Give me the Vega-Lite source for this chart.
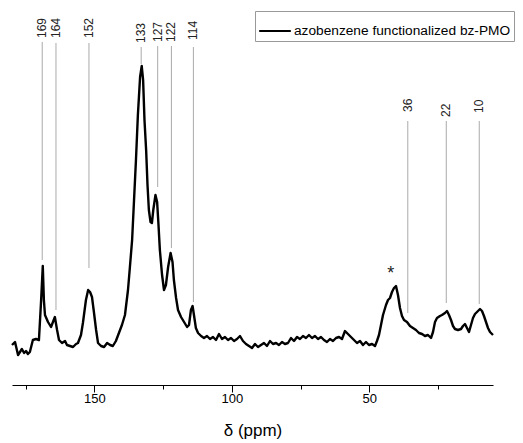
{
  "$schema": "https://vega.github.io/schema/vega-lite/v6.json",
  "autosize": "none",
  "width": 481,
  "height": 380,
  "padding": {"left": 12, "top": 5, "right": 30, "bottom": 58},
  "background": "white",
  "config": {
    "view": {"stroke": null},
    "font": "Liberation Sans",
    "text": {"font": "Liberation Sans"}
  },
  "datasets": {
    "spectrum": [
      {"ppm": 180.0, "i": 40}, {"ppm": 178.9, "i": 43}, {"ppm": 177.8, "i": 30}, {"ppm": 177.1, "i": 33},
      {"ppm": 176.4, "i": 36}, {"ppm": 175.6, "i": 32}, {"ppm": 174.9, "i": 34}, {"ppm": 174.2, "i": 31},
      {"ppm": 173.5, "i": 33}, {"ppm": 172.4, "i": 45}, {"ppm": 171.3, "i": 46}, {"ppm": 170.2, "i": 45},
      {"ppm": 169.4, "i": 85}, {"ppm": 168.8, "i": 119}, {"ppm": 168.4, "i": 85}, {"ppm": 168.0, "i": 70},
      {"ppm": 166.9, "i": 63}, {"ppm": 165.8, "i": 58}, {"ppm": 165.1, "i": 63}, {"ppm": 164.4, "i": 68},
      {"ppm": 163.6, "i": 55}, {"ppm": 162.9, "i": 45}, {"ppm": 161.8, "i": 42}, {"ppm": 160.7, "i": 44},
      {"ppm": 160.0, "i": 40}, {"ppm": 158.9, "i": 39}, {"ppm": 157.8, "i": 38}, {"ppm": 156.7, "i": 41},
      {"ppm": 156.0, "i": 42}, {"ppm": 154.9, "i": 50}, {"ppm": 154.2, "i": 62}, {"ppm": 153.1, "i": 85},
      {"ppm": 152.3, "i": 95}, {"ppm": 151.6, "i": 93}, {"ppm": 150.9, "i": 88}, {"ppm": 150.2, "i": 73},
      {"ppm": 149.4, "i": 55}, {"ppm": 148.7, "i": 42}, {"ppm": 147.6, "i": 39}, {"ppm": 146.5, "i": 38},
      {"ppm": 145.4, "i": 42}, {"ppm": 144.3, "i": 40}, {"ppm": 143.3, "i": 39}, {"ppm": 142.2, "i": 44},
      {"ppm": 141.1, "i": 52}, {"ppm": 140.0, "i": 60}, {"ppm": 138.9, "i": 70}, {"ppm": 137.8, "i": 95},
      {"ppm": 137.1, "i": 118}, {"ppm": 136.3, "i": 145}, {"ppm": 135.6, "i": 185}, {"ppm": 134.9, "i": 225},
      {"ppm": 134.2, "i": 270}, {"ppm": 133.4, "i": 308}, {"ppm": 132.8, "i": 319}, {"ppm": 132.3, "i": 305},
      {"ppm": 131.8, "i": 265}, {"ppm": 131.2, "i": 235}, {"ppm": 130.7, "i": 200}, {"ppm": 130.2, "i": 175},
      {"ppm": 129.6, "i": 163}, {"ppm": 129.1, "i": 162}, {"ppm": 128.6, "i": 175}, {"ppm": 127.8, "i": 190},
      {"ppm": 127.2, "i": 183}, {"ppm": 126.7, "i": 160}, {"ppm": 126.2, "i": 135}, {"ppm": 125.4, "i": 110},
      {"ppm": 124.7, "i": 95}, {"ppm": 124.0, "i": 100}, {"ppm": 123.2, "i": 118}, {"ppm": 122.3, "i": 132},
      {"ppm": 121.6, "i": 123}, {"ppm": 121.1, "i": 105}, {"ppm": 120.3, "i": 87}, {"ppm": 119.6, "i": 75},
      {"ppm": 118.5, "i": 68}, {"ppm": 117.4, "i": 63}, {"ppm": 116.3, "i": 58}, {"ppm": 115.6, "i": 60},
      {"ppm": 114.9, "i": 75}, {"ppm": 114.3, "i": 79}, {"ppm": 113.8, "i": 70}, {"ppm": 113.1, "i": 57},
      {"ppm": 112.3, "i": 52}, {"ppm": 111.2, "i": 49}, {"ppm": 110.15, "i": 47}, {"ppm": 109.06, "i": 49},
      {"ppm": 107.96, "i": 46}, {"ppm": 106.87, "i": 48}, {"ppm": 105.78, "i": 45}, {"ppm": 104.69, "i": 51},
      {"ppm": 103.6, "i": 46}, {"ppm": 102.51, "i": 48}, {"ppm": 101.41, "i": 45}, {"ppm": 100.32, "i": 47},
      {"ppm": 99.23, "i": 44}, {"ppm": 98.14, "i": 46}, {"ppm": 97.05, "i": 49}, {"ppm": 95.96, "i": 44},
      {"ppm": 94.87, "i": 41}, {"ppm": 93.77, "i": 39}, {"ppm": 92.68, "i": 37}, {"ppm": 91.59, "i": 41},
      {"ppm": 90.5, "i": 38}, {"ppm": 89.41, "i": 40}, {"ppm": 88.32, "i": 42}, {"ppm": 87.23, "i": 39},
      {"ppm": 86.13, "i": 44}, {"ppm": 85.04, "i": 41}, {"ppm": 83.95, "i": 42}, {"ppm": 82.86, "i": 40},
      {"ppm": 81.77, "i": 43}, {"ppm": 80.68, "i": 41}, {"ppm": 79.59, "i": 42}, {"ppm": 78.49, "i": 47},
      {"ppm": 77.4, "i": 44}, {"ppm": 76.31, "i": 48}, {"ppm": 75.22, "i": 46}, {"ppm": 74.13, "i": 49},
      {"ppm": 73.04, "i": 47}, {"ppm": 71.95, "i": 50}, {"ppm": 70.85, "i": 47}, {"ppm": 69.76, "i": 49},
      {"ppm": 68.67, "i": 46}, {"ppm": 67.58, "i": 48}, {"ppm": 66.49, "i": 45}, {"ppm": 65.4, "i": 43},
      {"ppm": 64.31, "i": 46}, {"ppm": 63.21, "i": 44}, {"ppm": 62.12, "i": 47}, {"ppm": 61.03, "i": 48},
      {"ppm": 59.94, "i": 46}, {"ppm": 58.85, "i": 54}, {"ppm": 57.76, "i": 51}, {"ppm": 56.67, "i": 48},
      {"ppm": 55.57, "i": 45}, {"ppm": 54.48, "i": 42}, {"ppm": 53.39, "i": 44}, {"ppm": 52.3, "i": 40},
      {"ppm": 51.21, "i": 43}, {"ppm": 50.12, "i": 40}, {"ppm": 49.02, "i": 41}, {"ppm": 47.93, "i": 39},
      {"ppm": 47.21, "i": 44}, {"ppm": 46.48, "i": 50}, {"ppm": 45.75, "i": 60}, {"ppm": 45.02, "i": 70},
      {"ppm": 43.93, "i": 80}, {"ppm": 43.2, "i": 85}, {"ppm": 42.48, "i": 87}, {"ppm": 41.75, "i": 93},
      {"ppm": 41.02, "i": 97}, {"ppm": 40.29, "i": 99}, {"ppm": 39.57, "i": 90}, {"ppm": 38.84, "i": 77},
      {"ppm": 38.11, "i": 69}, {"ppm": 37.38, "i": 65}, {"ppm": 36.29, "i": 63}, {"ppm": 35.2, "i": 59},
      {"ppm": 34.11, "i": 57}, {"ppm": 33.02, "i": 55}, {"ppm": 31.93, "i": 52}, {"ppm": 30.83, "i": 51},
      {"ppm": 29.74, "i": 49}, {"ppm": 28.65, "i": 50}, {"ppm": 27.56, "i": 47}, {"ppm": 26.83, "i": 53},
      {"ppm": 26.1, "i": 63}, {"ppm": 25.38, "i": 67}, {"ppm": 24.29, "i": 69}, {"ppm": 23.56, "i": 70},
      {"ppm": 22.47, "i": 72}, {"ppm": 21.74, "i": 74}, {"ppm": 21.01, "i": 70}, {"ppm": 20.28, "i": 65},
      {"ppm": 19.55, "i": 59}, {"ppm": 18.83, "i": 56}, {"ppm": 17.74, "i": 55}, {"ppm": 16.64, "i": 56},
      {"ppm": 15.92, "i": 59}, {"ppm": 15.19, "i": 61}, {"ppm": 14.46, "i": 57}, {"ppm": 13.73, "i": 53},
      {"ppm": 13.01, "i": 60}, {"ppm": 12.28, "i": 67}, {"ppm": 11.55, "i": 71}, {"ppm": 10.46, "i": 74},
      {"ppm": 9.73, "i": 76}, {"ppm": 9.0, "i": 74}, {"ppm": 8.28, "i": 69}, {"ppm": 7.55, "i": 63},
      {"ppm": 6.82, "i": 57}, {"ppm": 6.09, "i": 53}, {"ppm": 5.0, "i": 50}
    ],
    "peaks": [
      {"ppm": 169, "label": "169", "ly": 347, "top": 343, "bot": 125},
      {"ppm": 164, "label": "164", "ly": 347, "top": 342, "bot": 75},
      {"ppm": 152, "label": "152", "ly": 347, "top": 342, "bot": 117},
      {"ppm": 133, "label": "133", "ly": 342, "top": 338, "bot": 321},
      {"ppm": 127, "label": "127", "ly": 343, "top": 339, "bot": 198},
      {"ppm": 122, "label": "122", "ly": 343, "top": 339, "bot": 137},
      {"ppm": 114, "label": "114", "ly": 345, "top": 338, "bot": 83},
      {"ppm": 36, "label": "36", "ly": 273, "top": 264, "bot": 72},
      {"ppm": 22, "label": "22", "ly": 268, "top": 264, "bot": 82},
      {"ppm": 10, "label": "10", "ly": 272, "top": 264, "bot": 81}
    ],
    "star": [{"ppm": 42.2, "ly": 111, "label": "*"}]
  },
  "layer": [
    {
      "data": {"name": "peaks"},
      "mark": {"type": "rule", "color": "#aaaaaa", "strokeWidth": 1},
      "encoding": {
        "x": {"field": "ppm", "type": "quantitative"},
        "y": {"field": "top", "type": "quantitative", "axis": null},
        "y2": {"field": "bot"}
      }
    },
    {
      "data": {"name": "spectrum"},
      "mark": {"type": "line", "strokeWidth": 2.4, "strokeJoin": "round"},
      "encoding": {
        "x": {
          "field": "ppm", "type": "quantitative",
          "scale": {"domain": [5, 180], "reverse": true, "nice": false, "zero": false},
          "axis": {
            "title": "δ (ppm)",
            "values": [175, 150, 125, 100, 75, 50, 25],
            "labelExpr": "datum.value % 50 === 0 ? datum.label : ''",
            "grid": false,
            "domainColor": "black",
            "domainWidth": 1,
            "tickColor": "black",
            "tickSize": {"condition": {"test": "datum.value % 50 === 0", "value": 7}, "value": 4},
            "labelFont": "Liberation Sans",
            "labelFontSize": 13,
            "labelColor": "black",
            "labelPadding": 0,
            "titleFont": "Liberation Sans",
            "titleFontSize": 17,
            "titleFontWeight": "normal",
            "titleColor": "black",
            "titlePadding": 17
          }
        },
        "y": {
          "field": "i", "type": "quantitative", "axis": null,
          "scale": {"domain": [0, 380], "nice": false, "zero": true}
        },
        "color": {
          "datum": "azobenzene functionalized bz-PMO",
          "scale": {"range": ["black"]},
          "legend": {
            "title": null,
            "orient": "none",
            "legendX": 243,
            "legendY": 6,
            "strokeColor": "#999999",
            "padding": 3,
            "symbolType": "stroke",
            "symbolSize": 1000,
            "symbolStrokeWidth": 2,
            "symbolStrokeColor": "black",
            "labelFont": "Liberation Sans",
            "labelFontSize": 13.7,
            "labelColor": "black",
            "labelOffset": 2,
            "labelLimit": 400
          }
        }
      }
    },
    {
      "data": {"name": "peaks"},
      "mark": {"type": "text", "angle": 270, "align": "left", "baseline": "middle", "fontSize": 12, "color": "#222222"},
      "encoding": {
        "x": {"field": "ppm", "type": "quantitative"},
        "y": {"field": "ly", "type": "quantitative", "axis": null},
        "text": {"field": "label"}
      }
    },
    {
      "data": {"name": "star"},
      "mark": {"type": "text", "baseline": "middle", "align": "center", "fontSize": 18, "color": "#222222"},
      "encoding": {
        "x": {"field": "ppm", "type": "quantitative"},
        "y": {"field": "ly", "type": "quantitative", "axis": null},
        "text": {"field": "label"}
      }
    }
  ]
}
